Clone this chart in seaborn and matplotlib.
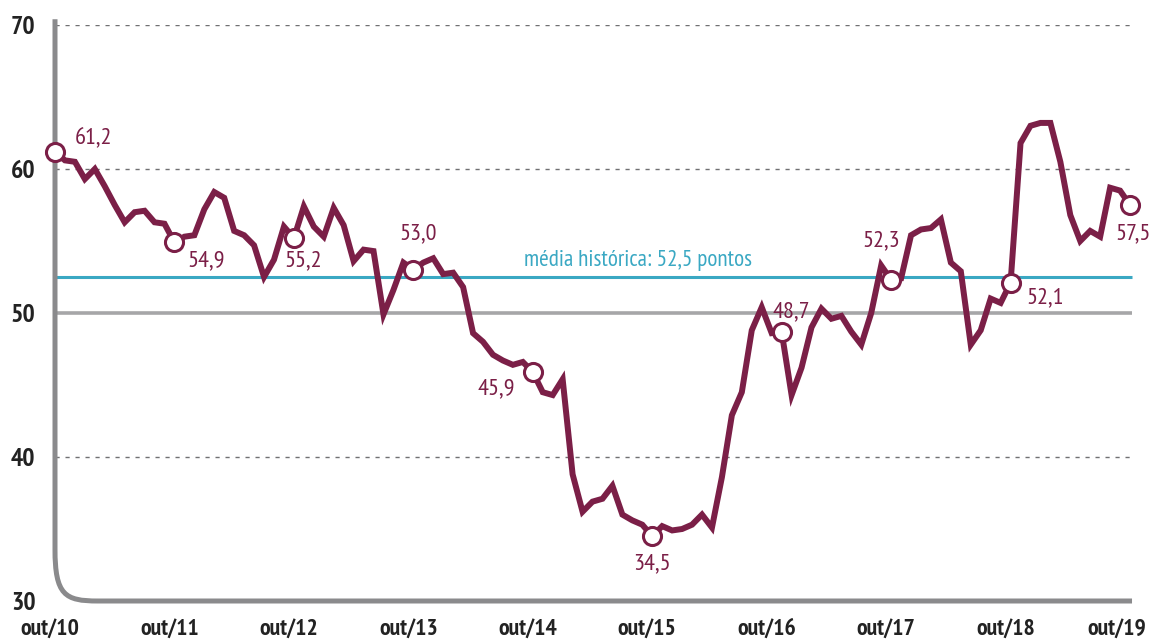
import pandas as pd
import seaborn as sns
import matplotlib.pyplot as plt
from matplotlib.path import Path
from matplotlib.patches import PathPatch
from matplotlib.transforms import ScaledTranslation

# monthly index, out/2010 .. out/2019
values = [61.2, 60.6, 60.5, 59.3, 60.0, 58.8, 57.5, 56.3, 57.0, 57.1, 56.3, 56.2,
          54.9, 55.3, 55.4, 57.2, 58.4, 58.0, 55.7, 55.4, 54.7, 52.5, 53.7, 56.0,
          55.2, 57.4, 56.0, 55.3, 57.3, 56.1, 53.6, 54.4, 54.3, 49.9, 51.6, 53.5,
          53.0, 53.5, 53.8, 52.7, 52.8, 51.8, 48.6, 48.0, 47.1, 46.7, 46.4, 46.6,
          45.9, 44.5, 44.3, 45.4, 38.8, 36.2, 36.9, 37.1, 38.0, 36.0, 35.6, 35.3,
          34.5, 35.2, 34.9, 35.0, 35.3, 36.0, 35.1, 38.6, 42.9, 44.5, 48.8, 50.4,
          48.6, 48.7, 44.3, 46.2, 49.0, 50.3, 49.6, 49.8, 48.7, 47.8, 50.0, 53.3,
          52.3, 52.4, 55.4, 55.8, 55.9, 56.5, 53.5, 52.9, 47.8, 48.8, 51.0, 50.7,
          52.1, 61.8, 63.0, 63.2, 63.2, 60.5, 56.8, 55.0, 55.7, 55.3, 58.7, 58.5,
          57.5]
tick_labels = ["out/10", "out/11", "out/12", "out/13", "out/14",
               "out/15", "out/16", "out/17", "out/18", "out/19"]
highlight_idx = [0, 12, 24, 36, 48, 60, 73, 84, 96, 108]
highlight_text = ["61,2", "54,9", "55,2", "53,0", "45,9", "34,5", "48,7", "52,3", "52,1", "57,5"]
media = 52.5
neutro = 50

df = pd.DataFrame({"mes": range(len(values)), "valor": values})
pts = df.iloc[highlight_idx]

MAROON = "#7b1f47"
GRAY = "#8a8a8c"
TEAL = "#3aa8c3"

sns.set_style("white")
plt.rcParams["font.family"] = ["PT Sans Narrow", "Liberation Sans Narrow",
                               "Roboto Condensed", "DejaVu Sans"]

fig = plt.figure(figsize=(11.52, 6.39), dpi=100)
ax = fig.add_axes([55 / 1152, 38 / 639, 1080 / 1152, 576 / 639])

for g in [40, 60, 70]:
    ax.hlines(g, 0, 108, color="#707072", lw=1.0, linestyles=(0, (3, 4.2)), zorder=1)
ax.hlines(neutro, 0, 108.2, color="#a6a6a8", lw=2.6, zorder=2)
ax.hlines(media, 0, 108.2, color=TEAL, lw=2.2, zorder=2)
ax.text(58.6, media + 0.45, "média histórica: 52,5 pontos", color=TEAL,
        fontsize=16.7, ha="center", va="bottom")

sns.lineplot(data=df, x="mes", y="valor", ax=ax, color=MAROON, lw=4.3,
             solid_joinstyle="miter", zorder=3, clip_on=False)
ax.plot(pts["mes"], pts["valor"], ls="none", marker="o", ms=13,
        mfc="white", mec=MAROON, mew=2.2, zorder=4, clip_on=False)

# label offsets in pixels (x, y) and alignment
offs = [(20, 13, "left"), (13, -18, "left"), (9, -23, "center"), (5, 36, "center"),
        (-18, -17, "right"), (0, -28, "center"), (10, 20, "center"), (-10, 39, "center"),
        (16, -15, "left"), (3, -29, "center")]
for (i, t), (dx, dy, ha) in zip(zip(highlight_idx, highlight_text), offs):
    ax.annotate(t, (i, values[i]), xytext=(dx, dy), textcoords="offset pixels",
                ha=ha, va="center", color=MAROON, fontsize=17.5, zorder=5)

# axis line with rounded corner
verts = [(0, 70.4), (0, 33.6), (0, 30.4), (1.0, 30.0), (4.3, 30.0), (108.2, 30.0)]
codes = [Path.MOVETO, Path.LINETO, Path.CURVE4, Path.CURVE4, Path.CURVE4, Path.LINETO]
ax.add_patch(PathPatch(Path(verts, codes), fill=False, edgecolor=GRAY, lw=3.6,
                       capstyle="butt", clip_on=False, zorder=2))

ax.set_xlim(0, 108.5)
ax.set_ylim(30, 70)
for s in ax.spines.values():
    s.set_visible(False)
ax.set_xticks(range(0, 109, 12))
ax.set_xticklabels(tick_labels)
ax.set_yticks([30, 40, 50, 60, 70])
ax.tick_params(axis="x", direction="out", length=9, width=3, color=GRAY, pad=3.5,
               labelsize=17, labelcolor="#222222")
ax.tick_params(axis="y", direction="out", length=11, width=2.6, color=GRAY, pad=3,
               labelsize=18.5, labelcolor="#222222")
ax.yaxis.get_major_ticks()[0].tick1line.set_visible(False)
for lab in ax.get_xticklabels() + ax.get_yticklabels():
    lab.set_fontweight("bold")

xlabs = ax.get_xticklabels()
for lab in xlabs[:-1]:
    lab.set_transform(lab.get_transform() + ScaledTranslation(-0.05, 0, fig.dpi_scale_trans))
xlabs[-1].set_horizontalalignment("right")
xlabs[-1].set_transform(xlabs[-1].get_transform() + ScaledTranslation(0.16, 0, fig.dpi_scale_trans))

ax.set_xlabel("")
ax.set_ylabel("")
ax.grid(False)

fig.savefig("out.png", dpi=100)
